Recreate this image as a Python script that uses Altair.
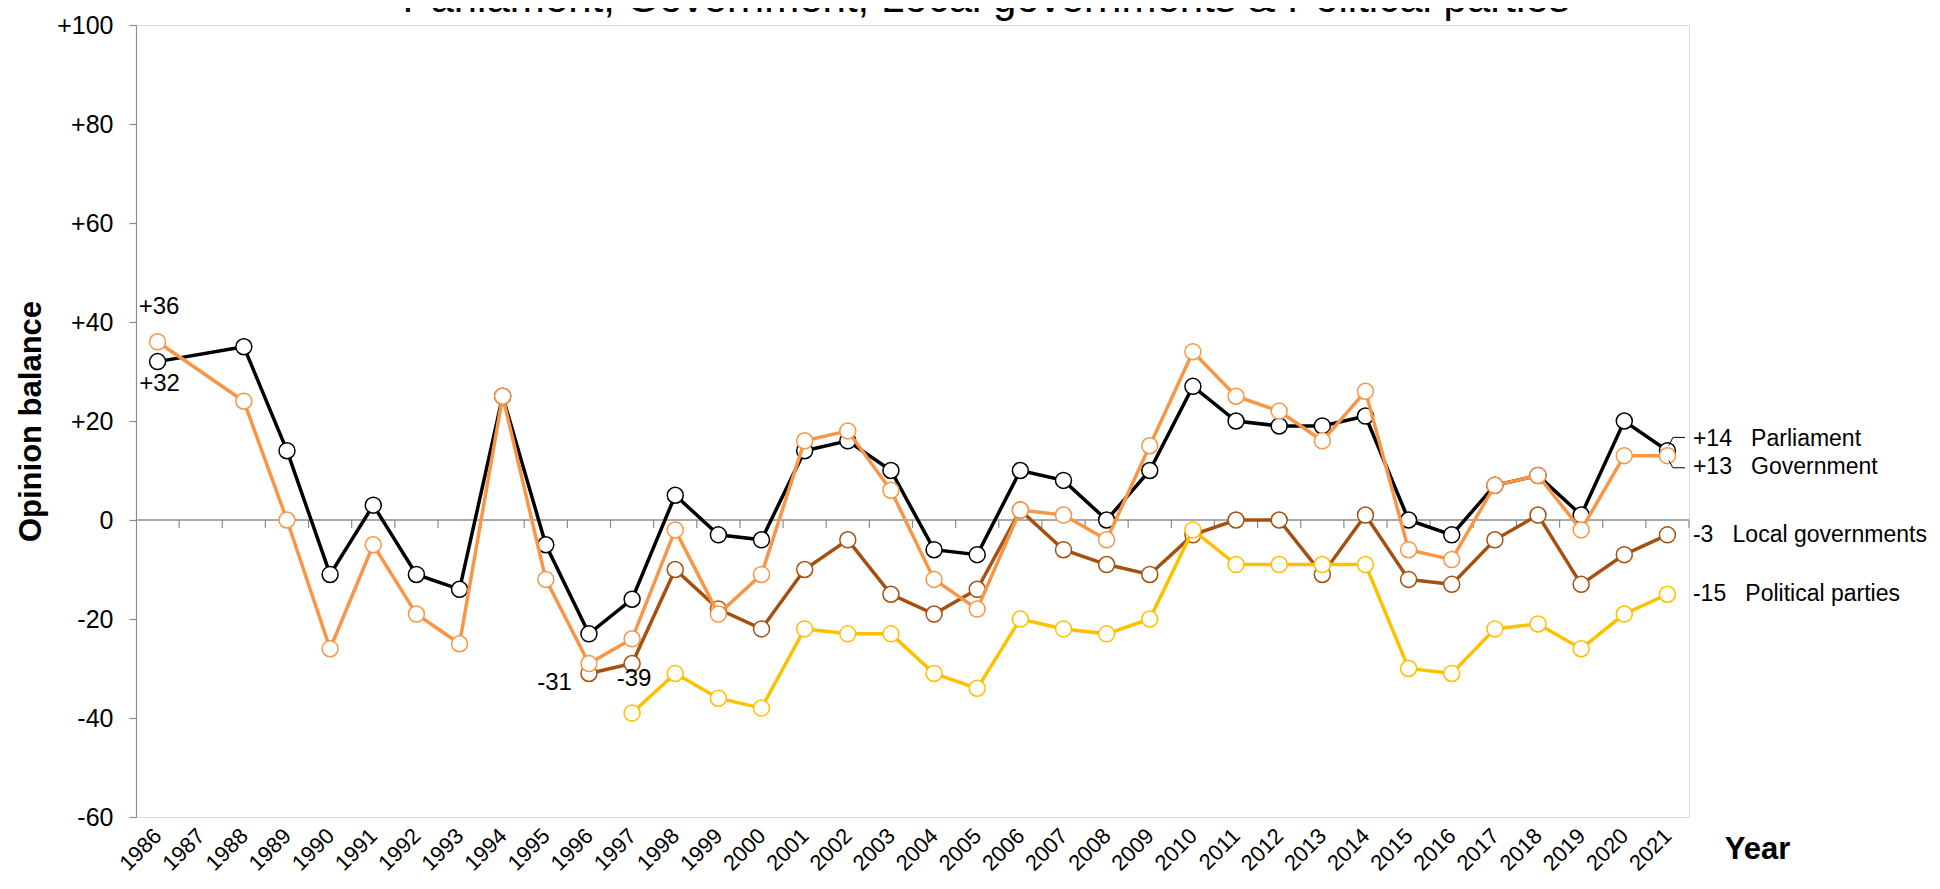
import altair as alt
import pandas as pd

# ---------------- data ----------------
years = list(range(1986, 2022))
parliament = [32, None, 35, 14, -11, 3, -11, -14, 25, -5,
              -23, -16, 5, -3, -4, 14, 16, 10, -6, -7,
              10, 8, 0, 10, 27, 20, 19, 19, 21, 0,
              -3, 7, 9, 1, 20, 14]
government = [36, None, 24, 0, -26, -5, -19, -25, 25, -12,
              -29, -24, -2, -19, -11, 16, 18, 6, -12, -18,
              2, 1, -4, 15, 34, 25, 22, 16, 26, -6,
              -8, 7, 9, -2, 13, 13]
local_gov = [None] * 10 + [-31, -29, -10, -18, -22, -10, -4, -15, -19, -14,
                           2, -6, -9, -11, -3, 0, 0, -11, 1, -12,
                           -13, -4, 1, -13, -7, -3]
political = [None] * 11 + [-39, -31, -36, -38, -22, -23, -23, -31, -34,
                           -20, -22, -23, -20, -2, -9, -9, -9, -9, -30,
                           -31, -22, -21, -26, -19, -15]

series_names = ["Parliament", "Government", "Local governments", "Political parties"]
series_values = [parliament, government, local_gov, political]
series_colors = ["#000000", "#F79646", "#A5500F", "#FFC000"]
draw_order = ["Parliament", "Local governments", "Political parties", "Government"]

y_ticks = list(range(-60, 101, 20))
x_domain = [years[0] - 0.5, years[-1] + 0.5]
y_domain = [-60, 100]

title_text = "Parliament, Government, Local governments & Political parties"

# ---------------- tables ----------------
rows = []
for name, vals in zip(series_names, series_values):
    for yr, v in zip(years, vals):
        if v is not None:
            rows.append({"series": name, "year": yr, "value": v})
df = pd.DataFrame(rows)

FONT = "Liberation Sans"
GREY = "#8c8c8c"

x_axis = alt.Axis(values=years, format="d", labelAngle=315, labelAlign="right",
                  labelBaseline="middle", labelFontSize=22, labelPadding=15,
                  labelFont=FONT, labelColor="black", ticks=False, tickSize=0,
                  domain=False, grid=False, labelFlush=False, labelOverlap=False,
                  title="Year", titleFont=FONT, titleFontSize=31, titleFontWeight="bold",
                  titleColor="black", titleX=1621, titleY=41, titleAlign="center",
                  titleBaseline="alphabetic")
y_axis = alt.Axis(values=y_ticks,
                  labelExpr="(datum.value > 0 ? '+' : '') + datum.value",
                  labelFontSize=25, labelFont=FONT, labelColor="black", labelPadding=16,
                  tickSize=7, tickColor=GREY, tickWidth=1.2, domainColor=GREY, domainWidth=1.2,
                  grid=False, title="Opinion balance", titleFont=FONT, titleFontSize=31,
                  titleFontWeight="bold", titleColor="black", titleX=-105, titleY=396,
                  titleAngle=270, titleAlign="center", titleBaseline="middle")

X = alt.X("year:Q", scale=alt.Scale(domain=x_domain, nice=False, zero=False), axis=x_axis)
Y = alt.Y("value:Q", scale=alt.Scale(domain=y_domain, nice=False, zero=False), axis=y_axis)

layers = []

# zero line with category-boundary ticks
zero_df = pd.DataFrame({"year": [x_domain[0]], "year2": [x_domain[1]], "value": [0]})
layers.append(alt.Chart(zero_df).mark_rule(color=GREY, strokeWidth=1.5)
              .encode(x=X, x2="year2:Q", y=Y))
tick_df = pd.DataFrame({"year": [yr + 0.5 for yr in years],
                        "value": [0] * len(years), "value2": [-1.6] * len(years)})
layers.append(alt.Chart(tick_df).mark_rule(color=GREY, strokeWidth=1.2)
              .encode(x=X, y=Y, y2="value2:Q"))

color_of = dict(zip(series_names, series_colors))
for name in draw_order:
    c = color_of[name]
    base = alt.Chart(df).transform_filter(alt.datum.series == name)
    layers.append(base.mark_line(color=c, strokeWidth=3.5).encode(x=X, y=Y))
    layers.append(base.mark_circle(size=255, fill="white", stroke=c, strokeWidth=1.5,
                                   opacity=1, fillOpacity=1).encode(x=X, y=Y))

# leader lines for the two close end labels
last = {n: v[-1] for n, v in zip(series_names, series_values)}
leader_df = pd.DataFrame({
    "series": ["Parliament"] * 3 + ["Government"] * 3,
    "year": [years[-1] + d for d in (0.035, 0.127, 0.406)] * 2,
    "value": [last["Parliament"] + d for d in (1.07, 2.69, 2.69)]
             + [last["Government"] + d for d in (-1.03, -2.45, -2.45)],
})
layers.append(alt.Chart(leader_df).mark_line(color="black", strokeWidth=1)
              .encode(x=X, y=Y, detail="series:N"))

# end-of-line labels
def end_label(name, dy):
    v = last[name]
    d = pd.DataFrame({"year": [years[-1]], "value": [v],
                      "label": [f"{v:+d}" if v != 0 else "0"]})
    d["label"] = d["label"] + "\u00a0\u00a0\u00a0" + name
    return (alt.Chart(d).mark_text(align="left", baseline="middle", dx=25.5, dy=dy,
                                   fontSize=23, font=FONT, color="black")
            .encode(x=X, y=Y, text="label:N"))

layers.append(end_label("Parliament", -12))
layers.append(end_label("Government", 11))
layers.append(end_label("Local governments", 0))
layers.append(end_label("Political parties", 0))

# first-value labels
def first_label(vals, align, dx, dy):
    i = next(k for k, v in enumerate(vals) if v is not None)
    v = vals[i]
    d = pd.DataFrame({"year": [years[i]], "value": [v], "label": [f"{v:+d}"]})
    return (alt.Chart(d).mark_text(align=align, baseline="middle", dx=dx, dy=dy,
                                   fontSize=24, font=FONT, color="black")
            .encode(x=X, y=Y, text="label:N"))

layers.append(first_label(government, "center", 1.5, -35))
layers.append(first_label(parliament, "center", 2, 22))
layers.append(first_label(local_gov, "right", -17, 10))
layers.append(first_label(political, "center", 2, -34))

# chart title (partly above the top edge, as in the reference)
title_df = pd.DataFrame({"title": [title_text]})
layers.append(alt.Chart(title_df).mark_text(align="center", baseline="alphabetic",
                                            fontSize=42, font=FONT, color="black")
              .encode(x=alt.value(850), y=alt.value(-13), text="title:N"))

chart = (
    alt.layer(*layers)
    .properties(
        width=1553, height=792,
        padding={"left": 128, "top": 17, "right": 243, "bottom": 58},
        autosize=alt.AutoSizeParams(type="none"),
    )
    .configure_view(stroke=None)
    .configure(font=FONT, background="white")
)

chart.save("out.html", embed_options={"renderer": "svg", "actions": False})
